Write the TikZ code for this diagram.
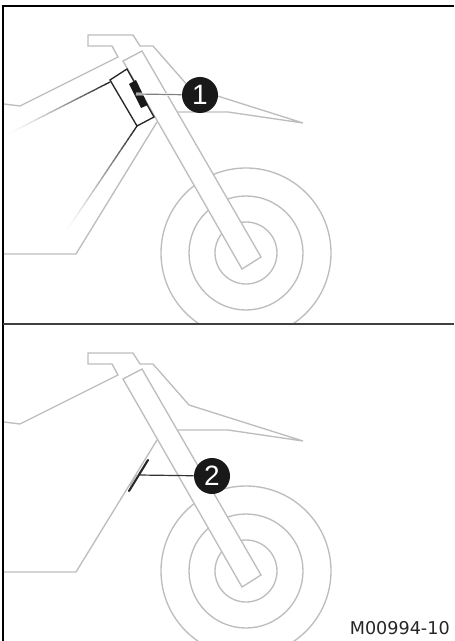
\documentclass[tikz,border=0pt]{standalone}
\usepackage{fontspec}
\setmainfont{DejaVu Sans}
\newfontfamily\badgefont{Liberation Sans}
\usetikzlibrary{calc}
\definecolor{bikegray}{HTML}{BDBDBD}
\tikzset{
  x=0.75pt,y=-0.75pt,
  bike/.style={draw=bikegray,line width=1pt,line join=miter},
  badge/.style={circle,fill=black!90,inner sep=0pt,minimum size=27pt,text=white,font=\badgefont\fontsize{21pt}{21pt}\selectfont},
  leader/.style={line width=0.9pt},
}
% fading line: from dark end #1 to white end #2
\newcommand{\fadeline}[3]{%
  \foreach \k in {0,...,23}{%
    \pgfmathsetmacro{\ta}{\k/24}\pgfmathsetmacro{\tb}{(\k+1.2)/24}\pgfmathsetmacro{\cc}{#3*(1-\k/24)^1.4}%
    \draw[line width=1pt,color=black!\cc!white,line cap=butt] ($(#1)!\ta!(#2)$) -- ($(#1)!\tb!(#2)$);
  }}
\newcommand{\bikeparts}{%
  \draw[bike] (246,253) circle[radius=85];
  \draw[bike] (246,253) circle[radius=57];
  \draw[bike] (246,253) circle[radius=31];
  \draw[bike] (4,104) -- (20,106) -- (118,57) -- (112,46) -- (88,46) -- (88,35) -- (133,35) -- (140,46) -- (153,46) -- (189,87) -- (303,123) -- (228,112) -- (178,112);
  \draw[bike] (4,254) -- (76,254) -- (157,122);
  \draw[bike,fill=white] (123,61) -- (142,51) -- (261,257) -- (242,269) -- cycle;
}
\begin{document}
\begin{tikzpicture}
\useasboundingbox (0,0) rectangle (454,641);
\fill[white] (0,0) rectangle (454,641);
% upper panel
\begin{scope}
  \clip (0,0) rectangle (454,324);
  \bikeparts
\end{scope}
% lower panel
\begin{scope}[shift={(0,318)}]
  \clip (0,6) rectangle (454,323);
  \bikeparts
\end{scope}
% upper panel details
\coordinate (ua) at (110,82); \coordinate (ub) at (10,133);
\coordinate (la) at (137,126); \coordinate (lb) at (67,230);
\fadeline{ua}{ub}{85}
\fadeline{la}{lb}{85}
\draw[line width=1pt,fill=white,draw=black!85] (110,80) -- (127,69) -- (154,117) -- (137,126) -- cycle;
\fill[black!90] (129,84) -- (136,80) -- (148,105) -- (141,108) -- cycle;
\node[badge] (b1) at (200,95) {1};
\coordinate (p1) at (136,94);
\draw[line width=2pt,draw=white] (p1) -- (b1);
\draw[leader,draw=black!50] (p1) -- (b1);
% lower panel details
\draw[line width=1.6pt,line cap=round,draw=black!85] (129,491) -- (148,460);
\draw[line width=0.8pt,draw=white!70!black] (130,486) -- (137,475);
\node[badge] (b2) at (212,476) {2};
\coordinate (p2) at (139,475);
\draw[leader,draw=black!80] (p2) -- (b2);
% text
\node[anchor=base east,inner sep=0pt,font=\fontsize{13.2pt}{13.2pt}\selectfont,text=black!85] (code) at (450,634) {M00994-10};
% frame
\draw[line width=1.9pt] (3,641) -- (3,6) -- (454,6);
\draw[line width=1.4pt,draw=black!75] (3,324) -- (454,324);
\end{tikzpicture}
\end{document}
